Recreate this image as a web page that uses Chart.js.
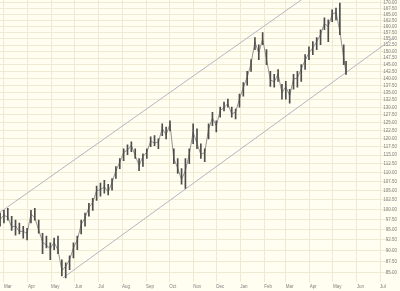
<!DOCTYPE html>
<html>
<head>
<meta charset="utf-8">
<script src="https://cdn.jsdelivr.net/npm/chart.js@4"></script>
<style>
  html, body { margin: 0; padding: 0; background: #fffef0; }
  canvas { display: block; }
</style>
</head>
<body>
<canvas id="priceChart" width="400" height="291"></canvas>
<script>
// ============================================================================
// data (days counted from 1 Mar, prices)
// ============================================================================

const days = [-5, 0, 5, 10, 15, 20, 25, 30, 35, 40, 45, 50, 55, 60, 65, 70, 75, 80, 85, 90,
    95, 100, 105, 110, 115, 120, 125, 130, 135, 140, 145, 150, 155, 160, 165, 170, 175, 180, 185, 190,
    195, 200, 205, 210, 215, 220, 225, 230, 235, 240, 245, 250, 255, 260, 265, 270, 275, 280, 285, 290,
    295, 300, 305, 310, 315, 320, 325, 330, 335, 340, 345, 350, 355, 360, 365, 370, 375, 380, 385, 390,
    395, 400, 405, 410, 415, 420, 425, 430, 435, 440, 443];

const highs = [99.1, 99.8, 100.3, 98.3, 97.3, 96.6, 95.8, 95.3, 99.8, 100.3, 97.3, 94.1, 93.4, 91.8, 92.9, 93.4, 87.9, 87.2, 88.8, 91.8,
    93.4, 97.3, 99.1, 101.6, 102.9, 106.2, 107.0, 107.8, 106.7, 108.3, 111.7, 114.0, 116.9, 118.1, 119.0, 116.9, 114.0, 115.4, 116.9, 120.5,
    120.9, 119.9, 124.6, 123.6, 125.6, 116.9, 114.0, 111.1, 114.0, 116.9, 124.6, 123.0, 118.4, 116.9, 124.6, 128.4, 125.6, 130.1, 131.8, 132.8,
    130.1, 129.4, 134.5, 138.6, 142.6, 147.0, 155.5, 152.7, 157.5, 150.8, 142.6, 141.5, 143.3, 137.9, 139.0, 136.2, 141.5, 142.6, 145.1, 148.9,
    151.9, 153.9, 155.5, 158.7, 163.6, 162.8, 167.0, 167.8, 170.0, 152.7, 146.3];

const lows = [95.8, 96.6, 97.3, 94.8, 93.6, 93.9, 92.9, 92.5, 96.6, 97.3, 94.1, 89.3, 90.6, 87.9, 90.2, 89.3, 84.3, 83.9, 85.7, 88.3,
    90.2, 93.9, 95.8, 98.3, 99.8, 102.4, 103.5, 104.3, 103.8, 105.1, 108.3, 111.1, 113.4, 115.1, 116.0, 114.0, 110.5, 111.7, 114.0, 117.5,
    117.8, 116.9, 120.9, 119.9, 122.4, 112.5, 109.7, 106.7, 105.6, 112.5, 118.4, 116.9, 114.0, 113.1, 119.9, 124.0, 122.1, 126.8, 128.8, 130.1,
    126.8, 126.2, 130.1, 133.8, 137.6, 142.6, 150.8, 147.0, 152.7, 145.1, 137.2, 136.9, 139.0, 132.8, 132.8, 131.4, 136.2, 136.9, 139.0, 143.3,
    147.0, 148.9, 150.8, 152.7, 158.7, 153.9, 162.0, 162.8, 156.7, 145.1, 141.5];

const closes = [97.5, 98.6, 98.0, 95.6, 95.9, 94.5, 94.6, 94.0, 98.9, 97.8, 94.9, 92.0, 91.2, 90.5, 91.9, 90.1, 85.5, 86.4, 87.9, 90.6,
    92.5, 96.2, 97.9, 100.5, 101.9, 105.0, 105.2, 106.0, 104.6, 107.2, 110.5, 112.9, 115.8, 116.5, 117.9, 114.8, 112.0, 114.6, 115.9, 119.2,
    118.6, 119.0, 123.1, 121.2, 124.5, 114.0, 111.2, 108.0, 110.5, 115.3, 122.0, 118.5, 115.2, 115.8, 123.0, 126.5, 124.0, 128.9, 130.0, 131.2,
    127.8, 128.5, 132.9, 136.8, 140.5, 145.5, 153.8, 149.5, 155.0, 147.0, 139.5, 138.8, 141.6, 135.0, 137.1, 134.0, 139.8, 140.2, 143.5, 146.8,
    149.5, 151.5, 153.9, 156.8, 161.2, 160.0, 165.1, 166.0, 158.0, 147.5, 142.0];

// trend channel end points
const upperDays = [-5.1, 415.8];
const upperPrices = [99.3, 178.9];
const lowerDays = [76.5, 505.1];
const lowerPrices = [83.9, 155.5];

// axis ticks
const monthDays = [0, 31, 61, 92, 122, 153, 184, 214, 245, 275, 306, 337, 365, 396, 426, 457, 487];
const monthLabels = ["Mar", "Apr", "May", "Jun", "Jul", "Aug", "Sep", "Oct", "Nov", "Dec",
    "Jan", "Feb", "Mar", "Apr", "May", "Jun", "Jul"];
const priceTicks = [85, 87.5, 90, 92.5, 95, 97.5, 100, 102.5, 105, 107.5, 110, 112.5, 115, 117.5,
    120, 122.5, 125, 127.5, 130, 132.5, 135, 137.5, 140, 142.5, 145, 147.5, 150, 152.5, 155, 157.5,
    160, 162.5, 165, 167.5, 170];

// ============================================================================
// chart
// ============================================================================

const gridColor = "#efebd3";
const tickFont = { family: "Liberation Sans", size: 4.5 };

const paperBg = {
    id: "paperBg",
    beforeDraw: (chart) => {
        const c = chart.ctx;
        c.save();
        c.fillStyle = "#fffef0";
        c.fillRect(0, 0, chart.width, chart.height);
        c.restore();
    },
};

new Chart(document.getElementById("priceChart"), {
    type: "bar",
    data: {
        datasets: [
            {
                type: "bar",
                data: days.map((d, i) => ({ x: d, y: [lows[i], highs[i]] })),
                backgroundColor: "#4d4d4d",
                barThickness: 1,
                order: 1,
            },
            {
                type: "line",
                data: days.map((d, i) => ({ x: d, y: closes[i] })),
                borderColor: "#7a7a7a",
                borderWidth: 0.8,
                pointRadius: 0,
                order: 2,
            },
            {
                type: "line",
                data: upperDays.map((d, i) => ({ x: d, y: upperPrices[i] })),
                borderColor: "#b3b5c2",
                borderWidth: 1,
                pointRadius: 0,
                order: 3,
            },
            {
                type: "line",
                data: lowerDays.map((d, i) => ({ x: d, y: lowerPrices[i] })),
                borderColor: "#b3b5c2",
                borderWidth: 1,
                pointRadius: 0,
                order: 3,
            },
        ],
    },
    options: {
        responsive: false,
        animation: false,
        layout: { padding: 0 },
        plugins: {
            legend: { display: false },
            tooltip: { enabled: false },
        },
        scales: {
            x: {
                type: "linear",
                min: -5.1,
                max: 505.1,
                offset: false,
                grid: { color: gridColor, offset: false, drawTicks: false },
                border: { display: false },
                afterBuildTicks: (s) => {
                    s.ticks = monthDays.map((v) => ({ value: v }));
                },
                afterFit: (s) => {
                    s.paddingLeft = 0;
                    s.paddingRight = 0;
                },
                ticks: {
                    align: "start",
                    padding: 2,
                    maxRotation: 0,
                    autoSkip: false,
                    color: "#808080",
                    font: tickFont,
                    callback: (v, i) => monthLabels[i],
                },
            },
            y: {
                type: "logarithmic",
                position: "right",
                min: 83.1,
                max: 171.3,
                grid: { color: gridColor, drawTicks: false },
                border: { display: false },
                afterBuildTicks: (s) => {
                    s.ticks = priceTicks.map((v) => ({ value: v }));
                },
                afterFit: (s) => {
                    s.paddingTop = 0;
                    s.paddingBottom = 0;
                },
                ticks: {
                    mirror: true,
                    padding: 3,
                    autoSkip: false,
                    color: "#808080",
                    font: tickFont,
                    callback: (v) => Number(v).toFixed(2),
                },
            },
        },
    },
    plugins: [paperBg],
});
</script>
</body>
</html>
